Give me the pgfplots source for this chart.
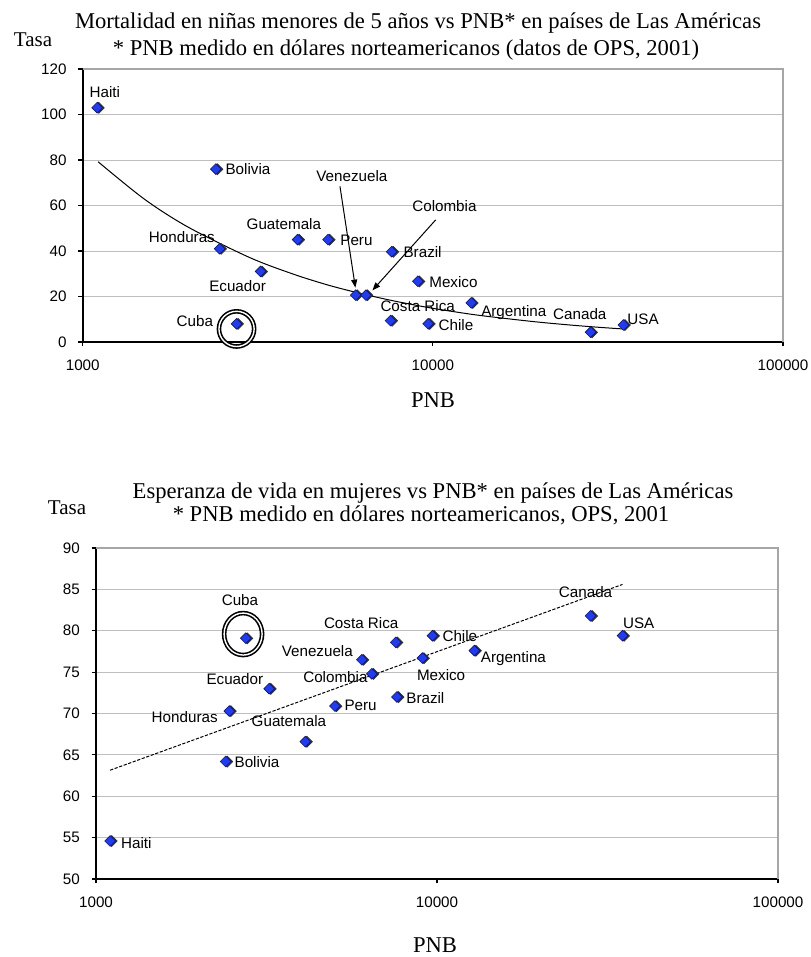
\documentclass[border=0pt]{standalone}
\usepackage{fontspec}
\setmainfont{Liberation Sans}
\newfontfamily\seriffont{Liberation Serif}
\usepackage{pgfplots}
\usepackage{pgfplotstable}
\pgfplotsset{compat=1.18}
\usetikzlibrary{arrows.meta}

\definecolor{markblue}{RGB}{35,60,235}
\definecolor{markedge}{RGB}{10,20,110}

% GNP per capita (US$) and rate for each country
\pgfplotstableread{
pnb   tasa
1100  103
2400  76
2460  41
3220  31
2750  8
4110  45
5020  45
6020  20.6
6440  20.6
7630  39.7
9060  26.7
7570  9.4
9700  8
12870 17.2
28200 4.3
35000 7.5
}\mortalidad

\pgfplotstableread{
pnb   tasa
1100  54.6
2400  64.2
2460  70.3
3220  73.0
2750  79.1
4110  66.6
5020  70.9
6020  76.5
6440  74.8
7570  78.6
7630  72.0
9060  76.7
9700  79.4
12870 77.6
28200 81.8
35000 79.4
}\esperanza

\tikzset{
  lbl/.style={font=\fontsize{7.6}{9}\selectfont, inner sep=0.5pt},
  ttl/.style={font=\seriffont\fontsize{11.3}{13}\selectfont},
}

\begin{document}
\begin{tikzpicture}
\path[use as bounding box, fill=white] (0pt,0pt) rectangle (405pt,-478.5pt);

% ---------- Mortality in girls under 5 ----------
\node[ttl] at (209pt,-11.5pt)
  {Mortalidad en niñas menores de 5 años vs PNB* en países de Las Américas};
\node[ttl] at (203pt,-25pt)
  {* PNB medido en dólares norteamericanos (datos de OPS, 2001)};
\node[ttl, font=\seriffont\fontsize{10.5}{12}\selectfont] at (16.5pt,-20pt) {Tasa};
\node[ttl] at (216.5pt,-200pt) {PNB};

\begin{axis}[
  scale only axis,
  at={(41.35pt,-171pt)}, anchor=south west,
  width=350.15pt, height=136.5pt,
  xmode=log,
  xmin=1000, xmax=100000,
  xtick={1000,10000,100000},
  xticklabels={1000,10000,100000},
  xminorticks=false,
  ymin=0, ymax=120, ytick={0,20,...,120},
  axis x line*=bottom, axis y line*=left,
  axis line style={line width=0.8pt, black},
  tick align=outside, major tick length=2.2pt,
  tick style={line width=0.6pt, black},
  ymajorgrids, grid style={gray!50, line width=0.5pt},
  tick label style={font=\fontsize{7.6}{9}\selectfont},
  xticklabel style={yshift=-3pt},
  yticklabel style={xshift=-2.4pt},
  clip=false,
  yticklabel={\pgfmathprintnumber[assume math mode=true]{\tick}},
]
\draw[gray!70, line width=0.6pt] (rel axis cs:0,1) -- (rel axis cs:1,1) -- (rel axis cs:1,0);
% power trend line
\addplot[black, line width=0.5pt, smooth] coordinates {
(1107,79.2)(1500,62.8)(2000,50.5)(3000,37.1)(4000,29.8)(5000,25.1)
(6000,21.9)(7000,19.5)(8000,17.6)(10000,14.8)(13000,12.1)(16000,10.4)
(20000,8.75)(25000,7.39)(30000,6.43)(35000,5.72)};
\addplot[only marks, mark=square*, mark size=1.9pt,
    mark options={rotate=45, fill=black!80, draw=black!80, xshift=0.5pt, yshift=-0.6pt}]
    table[x=pnb, y=tasa] {\mortalidad};
\addplot[only marks, mark=square*, mark size=1.9pt,
    mark options={rotate=45, fill=markblue, draw=markedge, line width=0.3pt}]
    table[x=pnb, y=tasa] {\mortalidad};

\node[lbl] at (axis cs:1157,109.7) {Haiti};
\node[lbl, anchor=west] at (axis cs:2535,75.8) {Bolivia};
\node[lbl] at (axis cs:5870,72.8) {Venezuela};
\node[lbl] at (axis cs:10790,59.6) {Colombia};
\node[lbl] at (axis cs:3754,51.9) {Guatemala};
\node[lbl, anchor=west] at (axis cs:5393,44.5) {Peru};
\node[lbl] at (axis cs:1920,46) {Honduras};
\node[lbl, anchor=west] at (axis cs:8174,39.5) {Brazil};
\node[lbl] at (axis cs:2769,24.5) {Ecuador};
\node[lbl, anchor=west] at (axis cs:9683,26.4) {Mexico};
\node[lbl] at (axis cs:9049,15.6) {Costa Rica};
\node[lbl, anchor=west] at (axis cs:10292,7.5) {Chile};
\node[lbl] at (axis cs:17030,13.1) {Argentina};
\node[lbl] at (axis cs:26280,12.4) {Canada};
\node[lbl, anchor=west] at (axis cs:35620,10.2) {USA};
\node[lbl] at (axis cs:2091,9.0) {Cuba};

\draw[-{Triangle[length=4pt,width=3pt]}, line width=0.5pt]
  (axis cs:5429,68.4) -- (axis cs:6008,23.9);
\draw[-{Triangle[length=4pt,width=3pt]}, line width=0.5pt]
  (axis cs:10190,53.7) -- (axis cs:6720,22.7);
\draw[black, line width=0.8pt, double=white, double distance=0.7pt]
  (axis cs:2750,5.75) circle[radius=8.8pt];
\end{axis}

% ---------- Female life expectancy ----------
\node[ttl] at (216.5pt,-246.5pt)
  {Esperanza de vida en mujeres vs PNB* en países de Las Américas};
\node[ttl] at (210.5pt,-257.5pt)
  {* PNB medido en dólares norteamericanos, OPS, 2001};
\node[ttl, font=\seriffont\fontsize{10.5}{12}\selectfont] at (33.5pt,-254pt) {Tasa};
\node[ttl] at (217.5pt,-472.5pt) {PNB};

\begin{axis}[
  scale only axis,
  at={(48pt,-439.5pt)}, anchor=south west,
  width=341pt, height=165.5pt,
  xmode=log,
  xmin=1000, xmax=100000,
  xtick={1000,10000,100000},
  xticklabels={1000,10000,100000},
  xminorticks=false,
  ymin=50, ymax=90, ytick={50,55,...,90},
  axis x line*=bottom, axis y line*=left,
  axis line style={line width=0.8pt, black},
  tick align=outside, major tick length=2.2pt,
  tick style={line width=0.6pt, black},
  ymajorgrids, grid style={gray!50, line width=0.5pt},
  tick label style={font=\fontsize{7.6}{9}\selectfont},
  xticklabel style={yshift=-3pt},
  yticklabel style={xshift=-2.4pt},
  clip=false,
  yticklabel={\pgfmathprintnumber[assume math mode=true]{\tick}},
]
\draw[gray!70, line width=0.6pt] (rel axis cs:0,1) -- (rel axis cs:1,1) -- (rel axis cs:1,0);
% logarithmic trend line
\addplot[black, line width=0.5pt, dash pattern=on 1.6pt off 0.8pt] coordinates {(1100,63.15) (35000,85.6)};
\addplot[only marks, mark=square*, mark size=1.9pt,
    mark options={rotate=45, fill=black!80, draw=black!80, xshift=0.5pt, yshift=-0.6pt}]
    table[x=pnb, y=tasa] {\esperanza};
\addplot[only marks, mark=square*, mark size=1.9pt,
    mark options={rotate=45, fill=markblue, draw=markedge, line width=0.3pt}]
    table[x=pnb, y=tasa] {\esperanza};

\node[lbl] at (axis cs:2643,83.7) {Cuba};
\node[lbl] at (axis cs:5993,80.9) {Costa Rica};
\node[lbl, anchor=west] at (axis cs:10282,79.4) {Chile};
\node[lbl] at (axis cs:4457,77.6) {Venezuela};
\node[lbl] at (axis cs:5035,74.4) {Colombia};
\node[lbl] at (axis cs:10282,74.65) {Mexico};
\node[lbl] at (axis cs:16750,76.6) {Argentina};
\node[lbl] at (axis cs:2553,74.2) {Ecuador};
\node[lbl, anchor=west] at (axis cs:8054,71.9) {Brazil};
\node[lbl, anchor=west] at (axis cs:5305,71.0) {Peru};
\node[lbl] at (axis cs:1820,69.6) {Honduras};
\node[lbl] at (axis cs:3679,69.1) {Guatemala};
\node[lbl, anchor=west] at (axis cs:2526,64.1) {Bolivia};
\node[lbl, anchor=west] at (axis cs:1174,54.4) {Haiti};
\node[lbl] at (axis cs:27270,84.7) {Canada};
\node[lbl] at (axis cs:39040,80.9) {USA};

\draw[black, line width=0.8pt, double=white, double distance=0.7pt]
  (axis cs:2700,79.6) ellipse[x radius=9.5pt, y radius=10.5pt];
\end{axis}
\end{tikzpicture}
\end{document}
